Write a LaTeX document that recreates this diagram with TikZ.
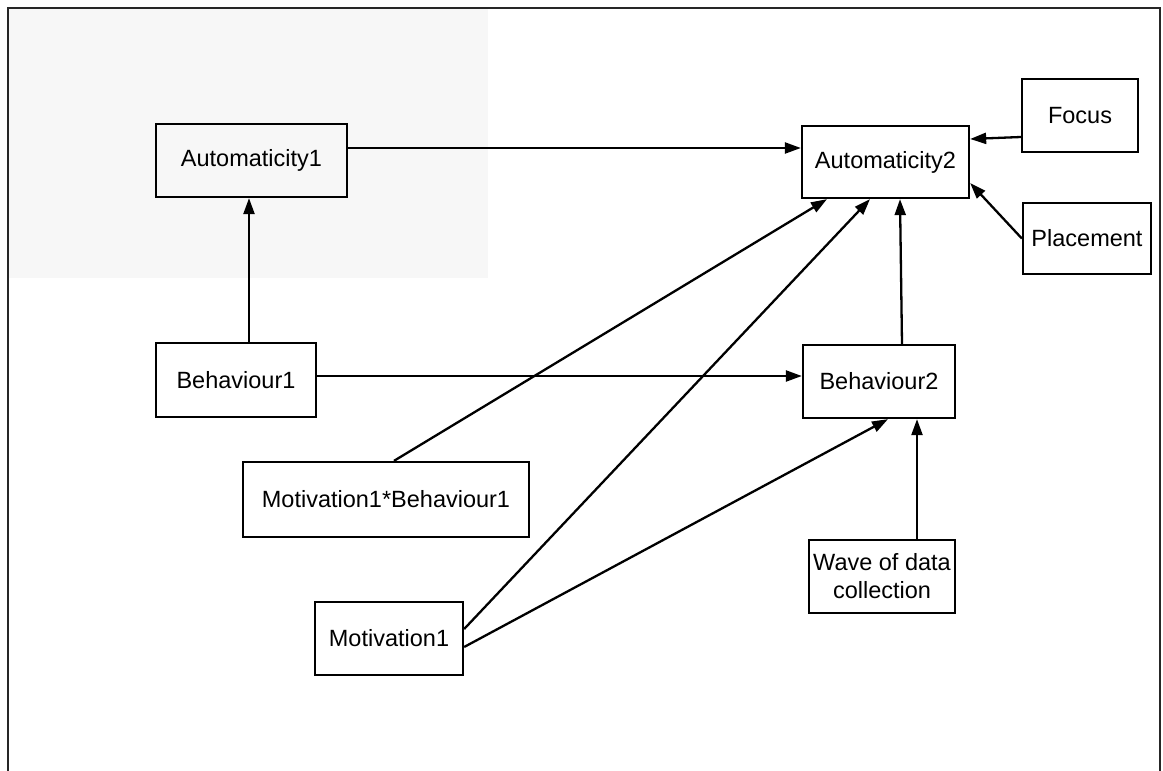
\documentclass[tikz,border=0pt]{standalone}
\usepackage{fontspec}
\setmainfont{Liberation Sans}
\usetikzlibrary{arrows.meta,calc}
\definecolor{panel}{HTML}{F7F7F7}
\begin{document}
\begin{tikzpicture}[x=1pt,y=-1pt,
  box/.style={draw,line width=2.3pt,rectangle,inner sep=0pt,minimum height=73pt,
    font=\fontsize{23.5}{28}\selectfont,align=center},
  link/.style={line width=2.3pt,-{Triangle[length=16pt,width=11pt]}}]
\useasboundingbox (0,0) rectangle (1163,771);
% shaded panel and outer frame
\fill[panel] (8,8) rectangle (488,278);
\draw[line width=1.3pt,black!85] (8,780) -- (8,8) -- (1160,8) -- (1160,780);

% boxes
\node[box,minimum width=191pt] (a1) at (251.5,160.5) {Automaticity1};
\node[box,minimum width=167pt,minimum height=72pt] (a2) at (885.5,162) {Automaticity2};
\node[box,minimum width=116pt] (fo) at (1080,115.5) {Focus};
\node[box,minimum width=128pt,minimum height=71pt] (pl) at (1087,238.5) {Placement};
\node[box,minimum width=160pt,minimum height=74pt] (b1) at (236,380) {Behaviour1};
\node[box,minimum width=152pt] (b2) at (879,381.5) {Behaviour2};
\node[box,minimum width=286pt,minimum height=75pt] (mb) at (386,499.5) {Motivation1*Behaviour1};
\node[box,minimum width=146pt] (wv) at (882,576.5) {Wave of data\\collection};
\node[box,minimum width=148pt] (m1) at (389,638.5) {Motivation1};

% connectors
\draw[link] ([yshift=12.5pt]a1.east) -- ([yshift=12.5pt]a1.east -| a2.west);
\draw[link] ([xshift=13pt]b1.north) -- ([xshift=13pt]b1.north |- a1.south);
\draw[link] ([yshift=4pt]b1.east) -- ([yshift=4pt]b1.east -| b2.west);
\draw[link] ([xshift=23pt]b2.north) -- ([xshift=14.5pt]a2.south);
\draw[link] ([yshift=-21.5pt]fo.west) -- ([yshift=23pt]a2.east);
\draw[link] (pl.west) -- ([yshift=-21pt]a2.east);
\draw[link] ([xshift=8pt]mb.north) -- ([xshift=-58.5pt]a2.south);
\draw[link] ([yshift=9.5pt]m1.east) -- ([xshift=-15.5pt]a2.south);
\draw[link] ([yshift=-8.5pt]m1.east) -- ([xshift=9pt]b2.south);
\draw[link] ([xshift=35pt]wv.north) -- ([xshift=35pt]wv.north |- b2.south);
\end{tikzpicture}
\end{document}
